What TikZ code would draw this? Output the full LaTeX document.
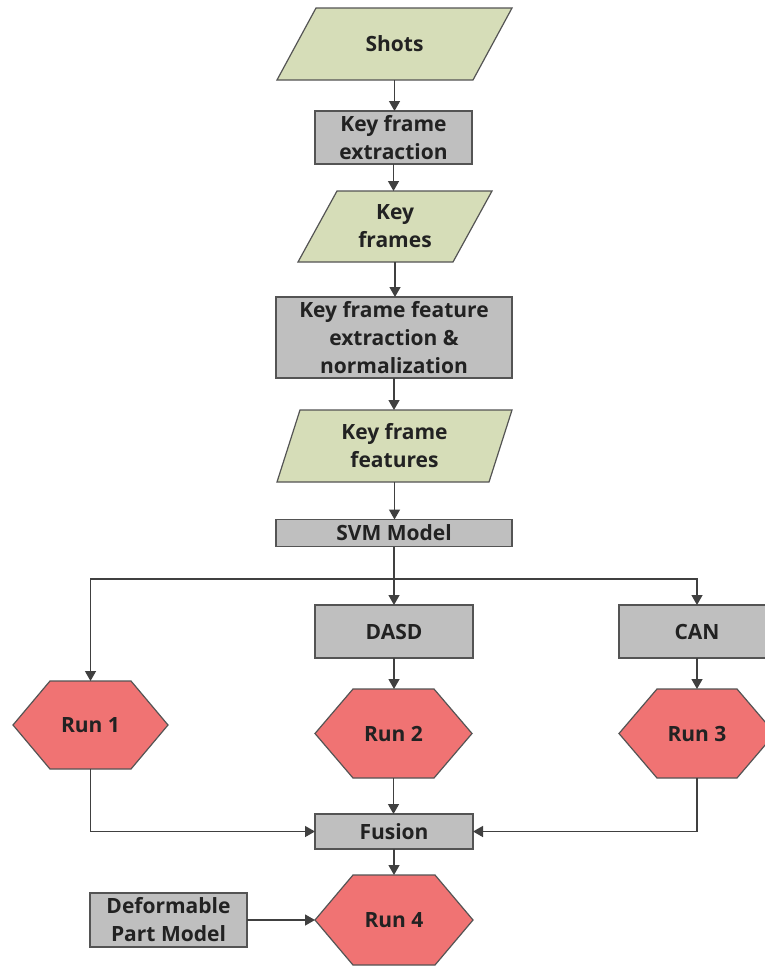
\documentclass[tikz,border=0pt]{standalone}
\usepackage{fontspec}
\setmainfont{Open Sans}
\usetikzlibrary{arrows.meta,backgrounds,calc}
\definecolor{paragreen}{HTML}{D6DDB8}
\definecolor{boxgray}{HTML}{BFBFBF}
\definecolor{hexred}{HTML}{F07373}
\definecolor{bord}{HTML}{545454}
\definecolor{arrcol}{HTML}{404040}
\definecolor{txt}{HTML}{222222}
\newcommand\paradraw[2]{\filldraw[parashape] ([xshift=#2]#1.north west) -- (#1.north east) -- ([xshift=-#2]#1.south east) -- (#1.south west) -- cycle;}
\newcommand\hexdraw[2]{\filldraw[hexshape] (#1.west) -- ([xshift=#2]#1.north west) -- ([xshift=-#2]#1.north east) -- (#1.east) -- ([xshift=-#2]#1.south east) -- ([xshift=#2]#1.south west) -- cycle;}
\tikzset{
  base/.style={inner sep=0pt, outer sep=0pt, align=center, text=txt,
    font=\bfseries\fontsize{21}{28}\selectfont},
  stepbox/.style={base, draw=bord, fill=boxgray, line width=1.2pt},
  paranode/.style={base},
  hexnode/.style={base},
  parashape/.style={draw=bord, fill=paragreen, line width=1.2pt, line join=miter},
  hexshape/.style={draw=bord, fill=hexred, line width=1.2pt, line join=miter},
  arr/.style={draw=arrcol, line width=1.3pt, -{Triangle[length=10pt,width=11pt]}},
}
\begin{document}
\begin{tikzpicture}[x=1pt,y=-1pt]
\useasboundingbox (0,0) rectangle (765,967);

\node[paranode, minimum width=235, minimum height=72] (shots) at (394.5,44) {Shots};
\node[stepbox, minimum width=157, minimum height=53] (kfe) at (393.5,137.5) {Key frame\\extraction};
\node[paranode, minimum width=194, minimum height=71] (kf) at (395,226.5) {Key\\frames};
\node[stepbox, minimum width=236, minimum height=81] (kffe) at (394,337.5) {Key frame feature\\extraction \&\\normalization};
\node[paranode, minimum width=235, minimum height=72] (kff) at (394.5,446) {Key frame\\features};
\node[stepbox, minimum width=236, minimum height=27] (svm) at (394,533) {SVM Model};
\coordinate (br) at (394,579);
\node[stepbox, minimum width=158, minimum height=53] (dasd) at (394,631.5) {DASD};
\node[stepbox, minimum width=156, minimum height=53] (can) at (697,631.5) {CAN};
\node[hexnode, minimum width=155, minimum height=88] (run1) at (90.5,725) {Run 1};
\node[hexnode, minimum width=157, minimum height=89] (run2) at (393.5,733.5) {Run 2};
\node[hexnode, minimum width=156, minimum height=89] (run3) at (697,733.5) {Run 3};
\node[stepbox, minimum width=158, minimum height=35] (fusion) at (394,831.5) {Fusion};
\node[hexnode, minimum width=158, minimum height=90] (run4) at (394,920) {Run 4};
\node[stepbox, minimum width=157, minimum height=54] (dpm) at (168.5,920) {Deformable\\Part Model};

\begin{pgfonlayer}{background}
\fill[white] (0,0) rectangle (765,967);
\paradraw{shots}{39}
\paradraw{kf}{39}
\paradraw{kff}{23}
\hexdraw{run1}{37}
\hexdraw{run2}{38}
\hexdraw{run3}{38}
\hexdraw{run4}{38}
\end{pgfonlayer}

\draw[arr] (shots.south) -- (shots.south |- kfe.north);
\draw[arr] (kfe.south) -- (kfe.south |- kf.north);
\draw[arr] (kf.south) -- (kf.south |- kffe.north);
\draw[arr] (kffe.south) -- (kffe.south |- kff.north);
\draw[arr] (kff.south) -- (kff.south |- svm.north);
\draw[arr] (svm.south) -- (svm.south |- dasd.north);
\draw[arr] (br) -| (run1.north);
\draw[arr] (br) -| (can.north);
\draw[arr] (dasd.south) -- (dasd.south |- run2.north);
\draw[arr] (can.south) -- (can.south |- run3.north);
\draw[arr] (run2.south) -- (run2.south |- fusion.north);
\draw[arr] (run1.south) |- (fusion.west);
\draw[arr] (run3.south) |- (fusion.east);
\draw[arr] (fusion.south) -- (fusion.south |- run4.north);
\draw[arr] (dpm.east) -- (run4.west);
\end{tikzpicture}
\end{document}
